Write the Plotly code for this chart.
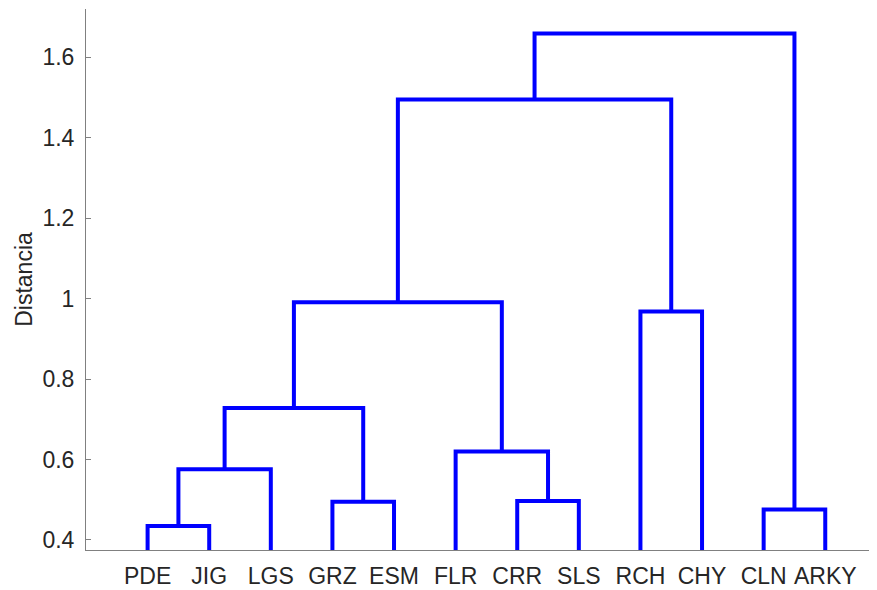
import plotly.graph_objects as go

# Leaf labels (in dendrogram order)
labels = ["PDE", "JIG", "LGS", "GRZ", "ESM", "FLR", "CRR", "SLS", "RCH", "CHY", "CLN", "ARKY"]

# Linkage: ids < 12 are leaves, new cluster ids start at 12 in the order listed
merge_left = [0, 10, 3, 6, 12, 5, 16, 8, 18, 20, 21]
merge_right = [1, 11, 4, 7, 2, 15, 14, 9, 17, 19, 13]
merge_height = [0.435, 0.476, 0.495, 0.497, 0.576, 0.620, 0.728, 0.968, 0.991, 1.495, 1.659]

y_ticks = [0.4, 0.6, 0.8, 1.0, 1.2, 1.4, 1.6]
y_ticktext = ["0.4", "0.6", "0.8", "1", "1.2", "1.4", "1.6"]

n = len(labels)
pos = {i: i + 1 for i in range(n)}
hgt = {i: 0.0 for i in range(n)}

xs, ys = [], []
for k, (a, b, h) in enumerate(zip(merge_left, merge_right, merge_height)):
    xa, xb = pos[a], pos[b]
    xs += [xa, xa, xb, xb, None]
    ys += [hgt[a], h, h, hgt[b], None]
    cid = n + k
    pos[cid] = (xa + xb) / 2
    hgt[cid] = h

fig = go.Figure()
fig.add_trace(go.Scatter(x=xs, y=ys, mode="lines",
                         line=dict(color="#0000FF", width=4),
                         hoverinfo="skip", showlegend=False))

font_family = "Liberation Sans, Arial, sans-serif"
fig.update_layout(
    width=869, height=582,
    margin=dict(l=78, r=0, t=1, b=40),
    plot_bgcolor="white", paper_bgcolor="white",
    font=dict(family=font_family, size=23, color="#262626"),
    xaxis=dict(range=[0, 12.84], tickvals=list(range(1, n + 1)), ticktext=labels,
               showline=True, linecolor="#808080", linewidth=1, ticks="",
               showgrid=False, zeroline=False, ticklabelstandoff=5),
    yaxis=dict(range=[0.3751, 1.720], tickvals=y_ticks, ticktext=y_ticktext,
               showline=True, linecolor="#808080", linewidth=1,
               ticks="inside", ticklen=5, tickcolor="#808080",
               showgrid=False, zeroline=False, ticklabelstandoff=6,
               title=dict(text="Distancia", font=dict(size=23), standoff=3)),
)

fig.write_html("out.html")
